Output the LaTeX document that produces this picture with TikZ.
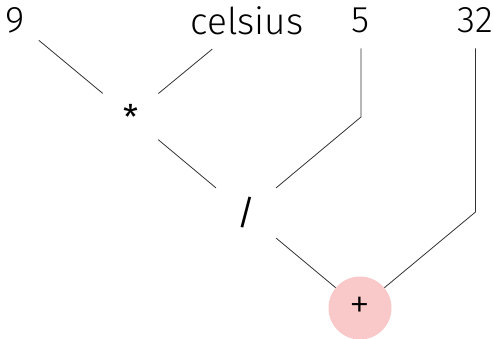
\documentclass[tikz,border=0pt]{standalone}
\usepackage{fontspec}
\setmainfont{Fira Sans}
\newfontfamily\lightfont{Fira Sans Light}
\definecolor{edgegray}{RGB}{50,50,50}
\definecolor{addpink}{RGB}{249,201,201}
\tikzset{
	leaf/.style  = {inner sep=0pt,font=\fontsize{37}{40}\selectfont\lightfont},
	oper/.style  = {circle,inner sep=0pt,minimum size=72pt,
		font=\fontsize{34}{40}\selectfont},
	addop/.style = {circle,inner sep=0pt,minimum size=63pt,fill=addpink,
		font=\fontsize{42}{46}\selectfont\lightfont},
	edge/.style  = {line width=0.8pt,edgegray},
}
\begin{document}
\begin{tikzpicture}[x=1pt,y=-1pt]
	\useasboundingbox (0,0) rectangle (493,339);
	%% Feuilles
	\node (nine) [leaf] at (15,20.5)  {9};
	\node (cel)  [leaf] at (247,20.5) {celsius};
	\node (five) [leaf] at (361,20.5) {5};
	\node (tt)   [leaf] at (475.5,20.5) {32};
	
	%% Operateurs
	\node (mul) [oper]  at (130.5,116.5) {*};
	\node (div) [oper,minimum size=78pt] at (246,213) {/};
	\node (add) [addop] at (360,308) {+};
	
	\coordinate (bfive) at (five.center |- 0,117);
	\coordinate (btt)   at (tt.center |- 0,212);
	
	%% Aretes
	\draw[edge,shorten <=31pt](nine.center)--(mul);
	\draw[edge,shorten <=45pt](cel.center)--(mul);
	\draw[edge](mul)--(div);
	\draw[edge,shorten <=28pt](five.center)--(bfive)--(div);
	\draw[edge](div)--(add);
	\draw[edge,shorten <=28pt](tt.center)--(btt)--(add);
\end{tikzpicture}
\end{document}
